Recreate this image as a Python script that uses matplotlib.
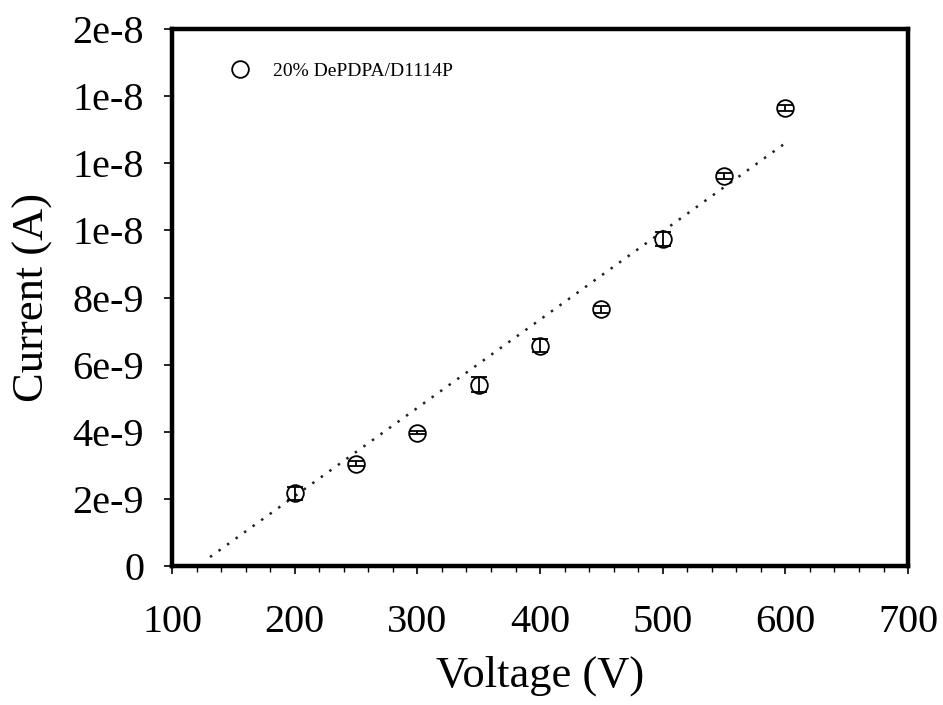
import matplotlib
matplotlib.use("Agg")
import matplotlib.pyplot as plt
from matplotlib.lines import Line2D
from matplotlib.ticker import MultipleLocator

# Data
voltage = [200, 250, 300, 350, 400, 450, 500, 550, 600]          # V
current = [2.17e-9, 3.05e-9, 3.97e-9, 5.40e-9, 6.57e-9,
           7.65e-9, 9.74e-9, 11.62e-9, 13.64e-9]                # A
err     = [0.20e-9, 0.08e-9, 0.05e-9, 0.22e-9, 0.18e-9,
           0.10e-9, 0.20e-9, 0.08e-9, 0.08e-9]                  # A
# Dotted trend line end points
fit_v = [131, 600]
fit_i = [0.27e-9, 12.6e-9]
# Axis ticks
xticks = [100, 200, 300, 400, 500, 600, 700]
yticks = [0, 2e-9, 4e-9, 6e-9, 8e-9, 10e-9, 12e-9, 14e-9, 16e-9]
ytick_labels = ["0", "2e-9", "4e-9", "6e-9", "8e-9", "1e-8", "1e-8", "1e-8", "2e-8"]
series_label = "20% DePDPA/D1114P"

plt.rcParams['font.family'] = ['Liberation Serif', 'DejaVu Serif']

fig = plt.figure(figsize=(9.43, 7.05), dpi=100)
ax = fig.add_axes([0.1824, 0.197, 0.963 - 0.1824, 0.959 - 0.197])

ax.plot(fit_v, fit_i, color="#222222", linestyle=(0, (1, 3.2)), linewidth=1.8)
ax.errorbar(voltage, current, yerr=err, fmt="o", markersize=12,
            markerfacecolor="none", markeredgecolor="black", markeredgewidth=1.3,
            ecolor="black", elinewidth=1.3, capsize=6, capthick=1.3)

ax.set_xlim(100, 700)
ax.set_ylim(0, 16e-9)
ax.set_xticks(xticks)
ax.set_xticklabels([str(v) for v in xticks])
ax.xaxis.set_minor_locator(MultipleLocator(20))
ax.set_yticks(yticks)
ax.set_yticklabels(ytick_labels)

for s in ax.spines.values():
    s.set_linewidth(3.2)
ax.tick_params(axis="both", which="major", direction="out", length=6, width=1.2,
               labelsize=29)
ax.tick_params(axis="y", which="major", pad=14)
ax.tick_params(axis="x", which="major", pad=21)
ax.tick_params(axis="x", which="minor", direction="out", length=4, width=1.0)

ax.set_xlabel("Voltage (V)", fontsize=32, labelpad=11)
ax.set_ylabel("Current (A)", fontsize=32, labelpad=14)

handle = Line2D([], [], linestyle="none", marker="o", markersize=12,
                markerfacecolor="none", markeredgecolor="black", markeredgewidth=1.3)
ax.legend([handle], [series_label], loc="upper left", bbox_to_anchor=(0.055, 0.97),
          frameon=False, fontsize=14, handletextpad=1.2, handlelength=1.0)

fig.savefig("out.png", dpi=100)
